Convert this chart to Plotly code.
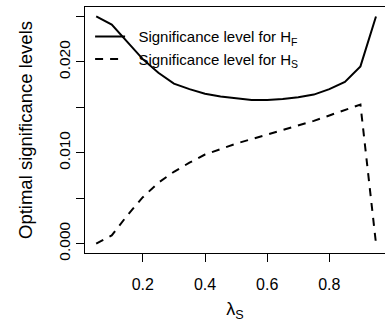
import plotly.graph_objects as go

lambda_s = [0.05, 0.10, 0.15, 0.20, 0.25, 0.30, 0.35, 0.40, 0.45, 0.50,
            0.55, 0.60, 0.65, 0.70, 0.75, 0.80, 0.85, 0.90, 0.95]
sig_hf = [0.0250, 0.0241, 0.0222, 0.0203, 0.0188, 0.0176, 0.0170, 0.0165, 0.0162, 0.0160,
          0.0158, 0.0158, 0.0159, 0.0161, 0.0164, 0.0170, 0.0178, 0.0195, 0.0250]
sig_hs = [0.0000, 0.0009, 0.0031, 0.0051, 0.0067, 0.0079, 0.0089, 0.0098, 0.0104, 0.0110,
          0.0115, 0.0120, 0.0125, 0.0130, 0.0135, 0.0141, 0.0147, 0.0153, 0.0000]

x_ticks = [0.2, 0.4, 0.6, 0.8]
x_ticktext = ["0.2", "0.4", "0.6", "0.8"]
y_ticks = [0.000, 0.010, 0.020]
y_ticktext = ["0.000", "0.010", "0.020"]
y_minor_step = 0.005

FONT = "Liberation Sans, Arial, sans-serif"
PAD = "\u00a0\u00a0"

fig = go.Figure()
fig.add_trace(go.Scatter(x=lambda_s, y=sig_hf, mode="lines",
                         line=dict(color="black", width=2),
                         name=PAD + "Significance level for H<sub>F</sub>"))
fig.add_trace(go.Scatter(x=lambda_s, y=sig_hs, mode="lines",
                         line=dict(color="black", width=2, dash="8px,7px"),
                         name=PAD + "Significance level for H<sub>S</sub>"))

fig.update_layout(
    width=385, height=327,
    margin=dict(l=85, r=0, t=7, b=74, autoexpand=False),
    paper_bgcolor="white", plot_bgcolor="white",
    font=dict(family=FONT, color="black"),
    showlegend=True,
    legend=dict(x=0.017, y=0.946, xanchor="left", yanchor="top",
                bgcolor="rgba(0,0,0,0)", borderwidth=0,
                font=dict(size=15, family=FONT, color="black"),
                itemwidth=30, tracegroupgap=0),
    xaxis=dict(range=[0.014, 0.979], tickvals=x_ticks, ticktext=x_ticktext,
               showgrid=False, zeroline=False, showline=True, linecolor="black",
               linewidth=1, mirror=True, ticks="outside", ticklen=8, tickwidth=1,
               tickcolor="black", tickfont=dict(size=16), automargin=False,
               ticklabelstandoff=9,
               title=dict(text="λ<sub>S</sub>", font=dict(size=18), standoff=10)),
    yaxis=dict(range=[-0.00104, 0.02604], tickvals=y_ticks, ticktext=y_ticktext,
               showgrid=False, zeroline=False, showline=True, linecolor="black",
               linewidth=1, mirror=False, ticks="outside", ticklen=8, tickwidth=1,
               tickcolor="black", tickfont=dict(size=15.5), tickangle=-90,
               minor=dict(tick0=0, dtick=y_minor_step, ticks="outside", ticklen=8,
                          tickwidth=1, tickcolor="black", showgrid=False),
               automargin=False,
               title=dict(text="Optimal significance levels", font=dict(size=18.5),
                          standoff=18)),
)

fig.write_html("out.html", config={"displayModeBar": False},
               post_script="document.body.style.margin='0';")
